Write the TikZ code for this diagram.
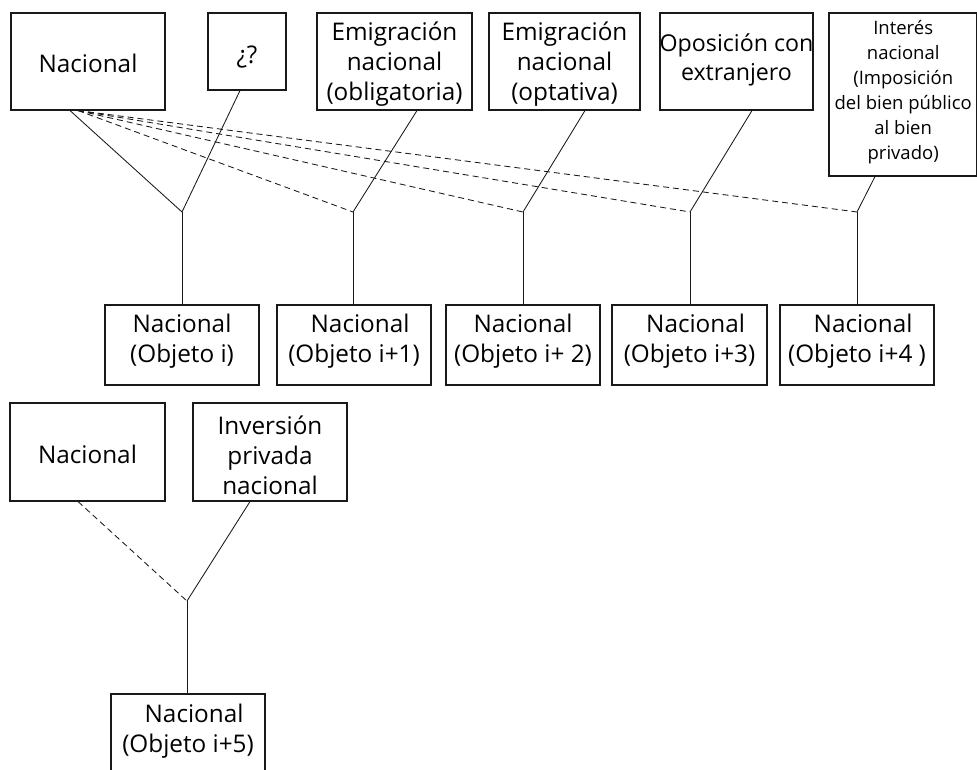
\documentclass[tikz,border=0pt]{standalone}
\usepackage{fontspec}
\setmainfont{Open Sans}
\begin{document}
\begin{tikzpicture}[x=1pt,y=-1pt,
  box/.style={draw=black!90, line width=1.1pt, inner sep=0pt},
  lbl/.style={align=center, inner sep=0pt, font=\fontsize{24.3}{30}\selectfont},
  small/.style={align=center, inner sep=0pt, font=\fontsize{18.5}{25}\selectfont},
  link/.style={draw=black!90, line width=0.85pt},
  opt/.style={link, dash pattern=on 6pt off 4pt}]
\clip (0,0) rectangle (977,770);
\fill[white] (0,0) rectangle (977,770);

% ---- upper group: sources ----
\node[box, minimum width=154pt, minimum height=97pt] (nat) at (88,61.5) {};
\node[lbl] (natT) at (88,63) {Nacional};
\node[box, minimum width=78pt, minimum height=77pt] (q) at (247,51.5) {};
\node[lbl] (qT) at (247,57) {¿?};
\node[box, minimum width=155pt, minimum height=97pt] (eo) at (394.5,61.5) {};
\node[lbl] (eoT) at (394.5,64) {Emigración\\nacional\\(obligatoria)};
\node[box, minimum width=151pt, minimum height=97pt] (ep) at (564.5,61.5) {};
\node[lbl] (epT) at (564.5,64) {Emigración\\nacional\\(optativa)};
\node[box, minimum width=153pt, minimum height=97pt] (op) at (736.5,61.5) {};
\node[lbl, font=\fontsize{23.2}{29}\selectfont] (opT) at (736.5,60) {Oposición con\\extranjero};
\node[box, minimum width=148pt, minimum height=163pt] (in) at (903,94.5) {};
\node[small, anchor=north west] (inT) at (832,20) {\makebox[142pt]{Interés}\\\makebox[142pt]{nacional}\\\makebox[142pt]{(Imposición}\\\mbox{del bien público}\\\makebox[142pt]{al bien}\\\makebox[142pt]{privado)}};

% ---- upper group: junctions ----
\coordinate (j1) at (182,212);
\coordinate (j2) at (353,212);
\coordinate (j3) at (523,212);
\coordinate (j4) at (690,212);
\coordinate (j5) at (857,212);

% ---- upper group: results ----
\node[box, minimum width=154pt, minimum height=80pt] (b1) at (182,345) {};
\node[lbl] (b1T) at (182,341) {Nacional\\(Objeto i)};
\node[box, minimum width=154pt, minimum height=80pt] (b2) at (354,345) {};
\node[lbl] (b2T) at (354,341) {\hspace*{0.5em}Nacional\\(Objeto i+1)};
\node[box, minimum width=154pt, minimum height=80pt] (b3) at (523,345) {};
\node[lbl] (b3T) at (523,341) {Nacional\\(Objeto i+ 2)};
\node[box, minimum width=155pt, minimum height=80pt] (b4) at (689.5,345) {};
\node[lbl] (b4T) at (689.5,341) {\hspace*{0.5em}Nacional\\(Objeto i+3)};
\node[box, minimum width=154pt, minimum height=80pt] (b5) at (857,345) {};
\node[lbl] (b5T) at (857,341) {\hspace*{0.5em}Nacional\\(Objeto i+4 )};

% ---- upper group: connectors ----
\draw[link] ([xshift=-18pt]nat.south) -- (j1);
\draw[opt] ([xshift=-10pt]nat.south) -- (j2);
\draw[opt] ([xshift=-10pt]nat.south) -- (j3);
\draw[opt] ([xshift=-10pt]nat.south) -- (j4);
\draw[opt] ([xshift=-10pt]nat.south) -- (j5);
\draw[link] ([xshift=-7pt]q.south) -- (j1);
\draw[link] ([xshift=22.5pt]eo.south) -- (j2);
\draw[link] ([xshift=20.5pt]ep.south) -- (j3);
\draw[link] ([xshift=15.5pt]op.south) -- (j4);
\draw[link] ([xshift=-28pt]in.south) -- (j5);
\draw[link] (j1) -- (j1 |- b1.north);
\draw[link] (j2) -- (j2 |- b2.north);
\draw[link] (j3) -- (j3 |- b3.north);
\draw[link] (j4) -- (j4 |- b4.north);
\draw[link] (j5) -- (j5 |- b5.north);

% ---- lower group ----
\node[box, minimum width=155pt, minimum height=98pt] (n2) at (87.5,452) {};
\node[lbl] (n2T) at (87.5,454) {Nacional};
\node[box, minimum width=154pt, minimum height=98pt] (inv) at (270,452) {};
\node[lbl] (invT) at (270,455) {Inversión\\privada\\nacional};
\coordinate (k1) at (187,601);
\node[box, minimum width=154pt, minimum height=96pt] (b6) at (188,742) {};
\node[lbl] (b6T) at (188,731) {\hspace*{0.5em}Nacional\\(Objeto i+5)};
\draw[opt] ([xshift=-9.5pt]n2.south) -- (k1);
\draw[link] ([xshift=-20pt]inv.south) -- (k1);
\draw[link] (k1) -- (k1 |- b6.north);
\end{tikzpicture}
\end{document}
